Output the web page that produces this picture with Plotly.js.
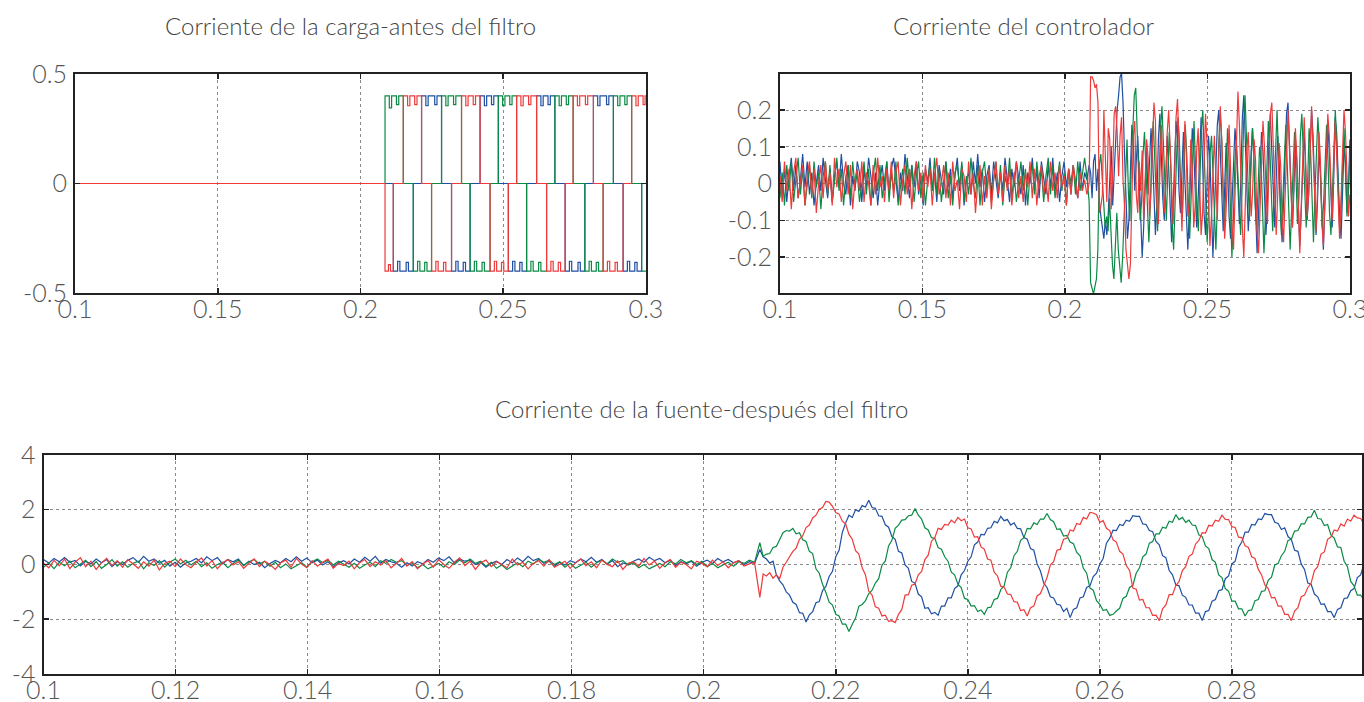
<!DOCTYPE html>
<html>
<head>
<meta charset="utf-8">
<script src="https://cdn.plot.ly/plotly-3.0.1.min.js"></script>
<style>html,body{margin:0;padding:0;background:#fff;}#chart{width:1364px;height:702px;}</style>
</head>
<body>
<div id="chart"></div>
<script>
// ---- time marks (s) ----
const T_START = 0.1, T_SWITCH = 0.2085, T_END = 0.3;

// ---- titles ----
const titleLoad = "Corriente de la carga-antes del filtro";
const titleCtrl = "Corriente del controlador";
const titleSource = "Corriente de la fuente-después del filtro";

// ---- tick labels ----
const topXTicks = [0.1, 0.15, 0.2, 0.25, 0.3];
const topXText = ["0.1", "0.15", "0.2", "0.25", "0.3"];
const loadYTicks = [-0.5, 0, 0.5];
const loadYText = ["-0.5", "0", "0.5"];
const ctrlYTicks = [-0.2, -0.1, 0, 0.1, 0.2];
const ctrlYText = ["-0.2", "-0.1", "0", "0.1", "0.2"];
const botXTicks = [0.1, 0.12, 0.14, 0.16, 0.18, 0.2, 0.22, 0.24, 0.26, 0.28];
const botXText = ["0.1", "0.12", "0.14", "0.16", "0.18", "0.2", "0.22", "0.24", "0.26", "0.28"];
const botYTicks = [-4, -2, 0, 2, 4];
const botYText = ["-4", "-2", "0", "2", "4"];

// ---- load current (A): instants where the level changes, and the level after each ----
const loadBlueT = [0.1,
  0.2115, 0.2130, 0.2138, 0.2160, 0.2168, 0.2185,
  0.2214, 0.2229, 0.2237, 0.2260, 0.2268, 0.2284,
  0.2319, 0.2334, 0.2342, 0.2360, 0.2368, 0.2384,
  0.2419, 0.2434, 0.2442, 0.2459, 0.2467, 0.2483,
  0.2518, 0.2533, 0.2541, 0.2558, 0.2566, 0.2582,
  0.2617, 0.2632, 0.2640, 0.2657, 0.2665, 0.2681,
  0.2717, 0.2732, 0.2740, 0.2762, 0.2770, 0.2786,
  0.2816, 0.2831, 0.2839, 0.2862, 0.2870, 0.2886,
  0.2920, 0.2935, 0.2943, 0.2961, 0.2969, 0.2985, 0.3];
const loadBlueV = [0,
  -0.4, -0.355, -0.4, -0.36, -0.4, 0,
  0.4, 0.355, 0.4, 0.36, 0.4, 0,
  -0.4, -0.355, -0.4, -0.36, -0.4, 0,
  0.4, 0.355, 0.4, 0.36, 0.4, 0,
  -0.4, -0.355, -0.4, -0.36, -0.4, 0,
  0.4, 0.355, 0.4, 0.36, 0.4, 0,
  -0.4, -0.355, -0.4, -0.36, -0.4, 0,
  0.4, 0.355, 0.4, 0.36, 0.4, 0,
  -0.4, -0.355, -0.4, -0.36, -0.4, 0, 0];
const loadGreenT = [0.1,
  0.2086, 0.2101, 0.2109, 0.2126, 0.2134, 0.2150,
  0.2185, 0.2200, 0.2208, 0.2225, 0.2233, 0.2249,
  0.2284, 0.2299, 0.2307, 0.2326, 0.2334, 0.2354,
  0.2384, 0.2399, 0.2407, 0.2426, 0.2434, 0.2454,
  0.2483, 0.2498, 0.2506, 0.2523, 0.2531, 0.2547,
  0.2582, 0.2597, 0.2605, 0.2624, 0.2632, 0.2652,
  0.2681, 0.2696, 0.2704, 0.2721, 0.2729, 0.2745,
  0.2786, 0.2801, 0.2809, 0.2826, 0.2834, 0.2850,
  0.2886, 0.2901, 0.2909, 0.2926, 0.2934, 0.2950,
  0.2985, 0.3];
const loadGreenV = [0,
  0.4, 0.345, 0.4, 0.36, 0.4, 0,
  -0.4, -0.355, -0.4, -0.36, -0.4, 0,
  0.4, 0.355, 0.4, 0.36, 0.4, 0,
  -0.4, -0.355, -0.4, -0.36, -0.4, 0,
  0.4, 0.355, 0.4, 0.36, 0.4, 0,
  -0.4, -0.355, -0.4, -0.36, -0.4, 0,
  0.4, 0.355, 0.4, 0.36, 0.4, 0,
  -0.4, -0.355, -0.4, -0.36, -0.4, 0,
  0.4, 0.355, 0.4, 0.36, 0.4, 0,
  -0.4, -0.4];
const loadRedT = [0.1,
  0.2086, 0.2098, 0.2105, 0.2115,
  0.2150, 0.2165, 0.2173, 0.2190, 0.2198, 0.2214,
  0.2249, 0.2264, 0.2272, 0.2291, 0.2299, 0.2319,
  0.2354, 0.2369, 0.2377, 0.2395, 0.2403, 0.2419,
  0.2454, 0.2469, 0.2477, 0.2494, 0.2502, 0.2518,
  0.2547, 0.2562, 0.2570, 0.2589, 0.2597, 0.2617,
  0.2652, 0.2667, 0.2675, 0.2693, 0.2701, 0.2717,
  0.2745, 0.2760, 0.2768, 0.2788, 0.2796, 0.2816,
  0.2850, 0.2865, 0.2873, 0.2892, 0.2900, 0.2920,
  0.2950, 0.2965, 0.2973, 0.2990, 0.2997, 0.3];
const loadRedV = [0,
  -0.4, -0.37, -0.4, 0,
  0.4, 0.355, 0.4, 0.36, 0.4, 0,
  -0.4, -0.355, -0.4, -0.36, -0.4, 0,
  0.4, 0.355, 0.4, 0.36, 0.4, 0,
  -0.4, -0.355, -0.4, -0.36, -0.4, 0,
  0.4, 0.355, 0.4, 0.36, 0.4, 0,
  -0.4, -0.355, -0.4, -0.36, -0.4, 0,
  0.4, 0.355, 0.4, 0.36, 0.4, 0,
  -0.4, -0.355, -0.4, -0.36, -0.4, 0,
  0.4, 0.355, 0.4, 0.36, 0.4, 0.4];

// ---- controller current (hundredths of A): before / after switching ----
const ctrlBluePre = [6,-3,4,-5,2,7,-2,5,-4,1,8,-1,6,-3,3,-6,0,5,-2,7,1,-4,4,-5,2,6,-1,8,0,-3,5,-6,2,-2,6,3,-5,4,-1,7,2,-4,3,-6,1,5,-2,6,-3,4,7,0,-5,3,-2,8,1,-4,5,-1,6,-3,2,-6,4,0,7,-2,3,-5,5,1,-3,6,-1,4,-4,2,7,-2,5,-6,1,3,-3,6,0,8,-1,4,-5,2,5,-3,6,1,-4,3,-2,7,0,-5,4,-1,6,2,-3,5,-6,3,0,7,-2,4,-4,6,1,-3,5,-1,7,-2,3,-5,2,6,-1,4,-3,5,0,-4,6,-2,3,1];
const ctrlGreenPre = [-4,3,-6,5,-2,6,-5,1,7,-3,4,-6,0,5,-4,6,-1,3,-7,2,6,-3,5,-5,1,7,-2,4,-6,2,5,-4,6,-1,3,-5,0,6,-3,4,-6,2,7,-2,5,-4,1,6,-5,3,-2,6,-6,0,4,-3,7,-1,5,-5,2,6,-4,3,-6,1,5,-2,7,-3,4,-5,0,6,-4,2,-6,3,5,-1,6,-5,2,-3,7,0,-4,5,-6,3,6,-2,4,-5,1,6,-3,5,-6,2,-1,7,-4,3,-5,1,6,-2,4,-6,3,5,-3,6,-1,4,-5,2,7,-3,5,-4,1,6,-2,3,-6,4,0,5,-3,6,-2,3,7,2];
const ctrlRedPre = [2,-5,6,-2,4,-7,3,7,-4,1,5,-6,2,6,-3,4,-8,0,5,-4,6,-2,3,-6,7,-1,4,-5,2,6,-3,5,-7,1,4,-2,6,-5,3,0,-6,5,-3,7,-1,2,-5,4,-2,6,-4,3,6,-6,1,5,-3,4,-7,2,6,-2,3,-5,5,-1,4,-6,2,7,-3,0,5,-4,3,-6,6,-2,1,-7,4,2,-5,6,-3,3,-8,0,5,-6,2,-4,4,-7,1,6,-3,3,-5,5,-2,4,-6,1,6,-4,2,-5,3,-1,6,-4,4,-6,2,5,-3,1,-5,6,-2,3,-4,5,-1,2,-6,4,-3,5,0,-4,3,-2,1,-3];
const ctrlBluePost = [5,3,-4,6,8,-2,4,-5,-9,-12,-15,-10,-14,-8,2,10,-6,4,14,20,24,29,30,22,8,-4,-15,-10,3,16,11,-2,6,13,2,-8,-20,-12,0,9,-3,6,15,8,-6,-14,-5,12,19,7,-4,-10,2,13,4,-9,-16,-6,8,17,12,-2,-8,5,14,1,-11,-18,-7,6,15,9,-3,-12,-4,10,18,6,-8,-14,-2,13,7,-10,-20,-9,4,16,20,8,-5,-13,-1,11,5,-9,-15,-4,7,15,10,-3,-11,2,18,24,12,-4,-13,-6,9,15,3,-10,-19,-8,5,14,9,-2,-14,-6,11,19,8,-5,-12,1,13,6,-9,-16,-5,8,19,22,10,-3,-12,-2,12,6,-8,-17,-7,6,14,4,-10,-3,11,20,13,-2,-14,-5,9,3,-11,-18,-6,7,16,9,-4,-12,1,18,14,0,-9,-15,-4,10,6,-8,-2,12];
const ctrlGreenPost = [-5,-27,-29,-30,-28,-26,-18,5,8,2,-6,-12,-9,-13,-4,-15,-22,-26,-14,-8,-18,-24,-27,-20,-10,2,12,-3,-10,6,18,24,26,15,2,-10,-5,8,14,3,-9,-16,-6,10,17,6,-7,-13,0,15,21,9,-4,-10,3,14,5,-11,-18,-8,7,18,11,-2,-9,4,16,8,-6,-15,-4,10,17,5,-8,-13,1,14,20,9,-5,-16,-7,8,13,2,-10,-18,-6,11,19,12,-3,-11,2,15,7,-7,-20,-10,5,12,3,-9,-14,-1,16,24,13,-2,-10,4,15,8,-6,-12,-3,10,6,-8,-19,-9,4,17,10,-4,-13,-2,12,20,7,-6,-14,-4,9,16,5,-9,-18,-7,6,14,2,-11,-4,13,19,8,-5,-12,0,15,9,-7,-16,-3,10,18,11,-3,-12,-5,8,16,6,-8,-14,-2,12,20,10,-4,-13,-6,7,15,3,-9,-2,8];
const ctrlRedPost = [0,29,29,28,26,27,22,-8,-6,-3,20,6,-5,15,12,-7,3,19,21,14,2,13,18,1,-6,-18,-23,-26,-22,-8,13,17,-3,-8,6,-2,9,-10,3,12,7,-9,-2,11,22,17,-6,-11,3,16,5,-8,-1,14,20,9,-5,-11,1,18,23,10,-6,-13,2,17,7,-9,-5,12,4,-12,-6,9,15,-3,-14,-8,6,19,11,-4,-17,-9,5,13,2,-10,8,21,12,-3,-15,-7,7,16,4,-11,-18,-4,10,25,16,1,-12,-20,-6,9,14,3,-9,-2,12,6,-13,-19,-7,8,17,10,-4,-11,3,19,22,8,-6,-14,-3,11,5,-10,-16,-2,13,20,9,-5,-12,1,15,7,-8,-19,-6,10,18,5,-9,-3,12,21,9,-4,-13,-2,14,6,-11,-17,-5,9,19,13,-2,-10,4,17,8,-7,-15,-4,11,20,14,0,-9,-3];

// ---- source current (hundredths of A): before / after switching ----
const srcBluePre = [18,5,22,10,25,8,15,-5,12,2,20,6,18,-8,10,0,15,25,8,30,12,20,4,15,-6,8,-10,5,12,22,6,28,14,25,2,18,10,20,-4,12,0,8,-12,4,15,6,22,10,28,12,24,6,16,-2,10,-8,6,14,2,20,8,26,12,30,5,18,10,4,-10,6,-6,10,2,18,8,24,14,28,6,20,12,16,0,8,-10,4,12,0,18,6,24,10,30,14,22,4,12,-6,8,-2,14,6,20,10,26,8,18,2,14,-8,6,0,12,20,8,26,14,22,6,16,-4,10,2,12,-6,8,16,4,22,10,18,6,14,0,10,4];
const srcGreenPre = [-10,5,-15,8,-5,12,-12,2,15,-8,10,-14,0,18,-6,10,-10,4,12,-16,6,-4,14,-10,8,20,2,15,-2,12,-8,6,-14,0,8,-12,4,16,-4,10,18,2,12,-6,8,-12,2,-16,-4,6,-10,10,20,6,16,-2,12,0,-10,4,-14,-2,8,-8,14,4,18,8,14,-4,6,-12,0,-16,-6,4,-10,10,0,16,6,20,4,12,-6,8,-14,-2,-18,-6,6,-8,12,2,18,8,16,0,10,-10,4,-14,-4,8,-10,6,16,2,20,8,14,-2,6,-12,0,-16,-6,4,-8,10,2,18,6,14,0,12,-8,4,-12,-2,8,-6,10,4,16,8];
const srcRedPre = [5,-12,15,-5,20,-15,8,25,-8,12,-18,6,22,-4,14,-10,18,2,-14,10,-6,16,-20,4,12,-8,20,0,-12,8,24,-6,14,-16,6,18,-2,10,-14,4,20,-8,12,0,-18,6,16,-10,22,2,-12,14,-6,8,20,-14,4,-4,12,-16,6,18,-8,10,-2,14,-12,4,22,-6,10,-16,2,14,-10,18,0,-14,8,24,-4,12,-18,6,16,-8,10,0,-12,20,-2,8,-16,4,14,-6,18,-10,2,12,-14,6,20,-4,10,-12,16,0,-8,14,-18,4,10,-6,22,-2,12,-14,6,18,-10,8,0,-16,12,4,-8,16,-4,10,-12,6,14,-6,2,8];
const srcBluePost = [55,28,20,5,12,-38,-60,-74,-100,-112,-138,-146,-176,-178,-210,-184,-172,-140,-135,-95,-80,-44,-25,28,52,118,152,180,172,200,194,215,210,235,208,205,178,176,145,136,102,92,48,42,-2,-14,-62,-68,-108,-118,-160,-158,-180,-175,-185,-152,-152,-122,-122,-88,-78,-38,-22,12,28,72,82,110,108,132,134,158,152,176,160,164,144,152,132,130,98,92,58,52,2,-24,-68,-84,-118,-122,-146,-148,-172,-160,-194,-164,-158,-122,-118,-84,-78,-44,-32,2,22,78,96,125,124,146,142,162,158,178,176,176,148,146,124,120,84,72,32,25,-22,-38,-74,-78,-112,-120,-148,-148,-178,-178,-205,-172,-168,-134,-128,-96,-92,-52,-42,2,12,62,82,118,118,146,144,166,164,186,182,182,154,150,128,134,102,92,52,48,2,-18,-68,-72,-108,-118,-146,-144,-172,-172,-194,-164,-158,-124,-122,-96,-88,-48,-38,2];
const srcGreenPost = [80,30,38,40,62,66,92,116,124,122,132,112,116,90,84,48,40,-16,-32,-72,-102,-138,-148,-182,-188,-218,-218,-245,-218,-196,-152,-146,-132,-106,-94,-68,-52,-2,12,68,88,132,144,162,164,178,180,204,180,166,134,126,98,96,62,56,28,12,-28,-38,-72,-84,-124,-128,-152,-150,-172,-166,-182,-158,-156,-128,-124,-92,-78,-28,-12,32,48,88,98,132,130,152,146,166,166,186,164,156,128,130,104,106,82,76,44,32,-14,-32,-86,-94,-132,-146,-168,-164,-186,-182,-170,-160,-124,-116,-84,-76,-32,-12,28,38,78,84,112,112,136,132,158,154,182,164,172,154,162,144,142,108,102,68,58,18,8,-38,-48,-88,-98,-134,-134,-162,-162,-188,-168,-166,-132,-128,-98,-96,-58,-46,-2,4,32,48,88,92,122,124,148,148,172,174,198,168,166,142,146,108,96,64,62,12,-8,-62,-78,-112,-112,-127];
const srcRedPost = [-120,-35,-42,-30,-50,-38,-52,-10,8,26,48,60,92,105,135,144,170,180,202,208,230,228,212,190,184,158,148,110,92,50,38,-12,-38,-98,-112,-155,-160,-188,-185,-208,-205,-212,-182,-165,-112,-110,-76,-72,-38,-25,18,34,85,98,132,128,146,144,162,152,172,160,166,134,130,100,102,64,56,20,16,-28,-42,-80,-82,-108,-110,-136,-138,-168,-165,-188,-158,-152,-115,-106,-78,-48,-2,10,52,55,92,96,126,122,150,146,172,166,190,188,182,154,160,132,124,90,82,48,38,-4,-22,-86,-90,-130,-128,-158,-158,-186,-185,-205,-162,-148,-110,-110,-78,-62,-22,-8,30,38,75,88,116,115,143,140,162,158,180,165,164,138,135,100,98,68,62,28,22,-18,-38,-75,-88,-122,-120,-152,-152,-182,-182,-205,-170,-158,-118,-112,-84,-68,-22,-8,38,46,92,100,126,122,148,140,166,158,180,170,168,148];

// ---- colours ----
const BLUE = "#1f4fa3", GREEN = "#0b8a45", RED = "#ee3a3a";

// build sampled series (values stored in hundredths)
function sampled(pre, post) {
  const x = [], y = [];
  const dPre = (T_SWITCH - T_START) / pre.length;
  pre.forEach((v, i) => { x.push(T_START + i * dPre); y.push(v / 100); });
  const dPost = (T_END - T_SWITCH) / (post.length - 1);
  post.forEach((v, i) => { x.push(T_SWITCH + i * dPost); y.push(v / 100); });
  return { x, y };
}

const traces = [];
function stepTrace(t, v, color) {
  traces.push({ type: "scatter", mode: "lines", x: t, y: v, xaxis: "x", yaxis: "y",
    line: { color: color, width: 1.2, shape: "hv" }, showlegend: false, hoverinfo: "skip" });
}
stepTrace(loadBlueT, loadBlueV, BLUE);
stepTrace(loadGreenT, loadGreenV, GREEN);
stepTrace(loadRedT, loadRedV, RED);

function sampTrace(pre, post, color, xa, ya) {
  const s = sampled(pre, post);
  traces.push({ type: "scatter", mode: "lines", x: s.x, y: s.y, xaxis: xa, yaxis: ya,
    line: { color: color, width: 1.2 }, showlegend: false, hoverinfo: "skip" });
}
sampTrace(ctrlBluePre, ctrlBluePost, BLUE, "x2", "y2");
sampTrace(ctrlGreenPre, ctrlGreenPost, GREEN, "x2", "y2");
sampTrace(ctrlRedPre, ctrlRedPost, RED, "x2", "y2");
sampTrace(srcBluePre, srcBluePost, BLUE, "x3", "y3");
sampTrace(srcGreenPre, srcGreenPost, GREEN, "x3", "y3");
sampTrace(srcRedPre, srcRedPost, RED, "x3", "y3");

const FONT = "Lato, 'Open Sans', sans-serif";
function axis(domain, range, tickvals, ticktext, anchor, isX) {
  return {
    domain: domain, range: range, anchor: anchor,
    tickmode: "array", tickvals: tickvals, ticktext: ticktext,
    ticks: "inside", ticklen: 5, tickwidth: 1.5, tickcolor: "#222",
    showline: true, linecolor: "#222", linewidth: 2, mirror: "ticks",
    showgrid: true, gridcolor: "#8a8a8a", gridwidth: 1, griddash: "dot",
    zeroline: false, ticklabelstandoff: isX ? -7 : 1,
    ticklabeloverflow: "allow",
    tickfont: { family: FONT, size: 25, color: "#555", weight: 300 },
    fixedrange: true
  };
}

const layout = {
  width: 1364, height: 702,
  margin: { l: 0, r: 0, t: 0, b: 0 },
  paper_bgcolor: "#fff", plot_bgcolor: "#fff",
  showlegend: false,
  xaxis: axis([0.0550, 0.4736], [0.1, 0.30002], topXTicks, topXText, "y", true),
  yaxis: axis([0.5826, 0.8946], [-0.5, 0.5], loadYTicks, loadYText, "x", false),
  xaxis2: axis([0.5718, 0.9897], [0.1, 0.30002], topXTicks, topXText, "y2", true),
  yaxis2: axis([0.5826, 0.8946], [-0.298, 0.298], ctrlYTicks, ctrlYText, "x2", false),
  xaxis3: axis([0.0319, 0.9985], [0.1, 0.2997], botXTicks, botXText, "y3", true),
  yaxis3: axis([0.0399, 0.3519], [-4, 4], botYTicks, botYText, "x3", false),
  annotations: [
    { text: titleLoad, xref: "paper", yref: "paper", x: 0.2573, y: 0.9630, xanchor: "center", yanchor: "middle", showarrow: false, font: { family: FONT, size: 24, color: "#444", weight: 300 } },
    { text: titleCtrl, xref: "paper", yref: "paper", x: 0.7507, y: 0.9630, xanchor: "center", yanchor: "middle", showarrow: false, font: { family: FONT, size: 24, color: "#444", weight: 300 } },
    { text: titleSource, xref: "paper", yref: "paper", x: 0.5140, y: 0.4175, xanchor: "center", yanchor: "middle", showarrow: false, font: { family: FONT, size: 24, color: "#444", weight: 300 } }
  ]
};

Plotly.newPlot("chart", traces, layout, { staticPlot: true, displayModeBar: false });
</script>
</body>
</html>
